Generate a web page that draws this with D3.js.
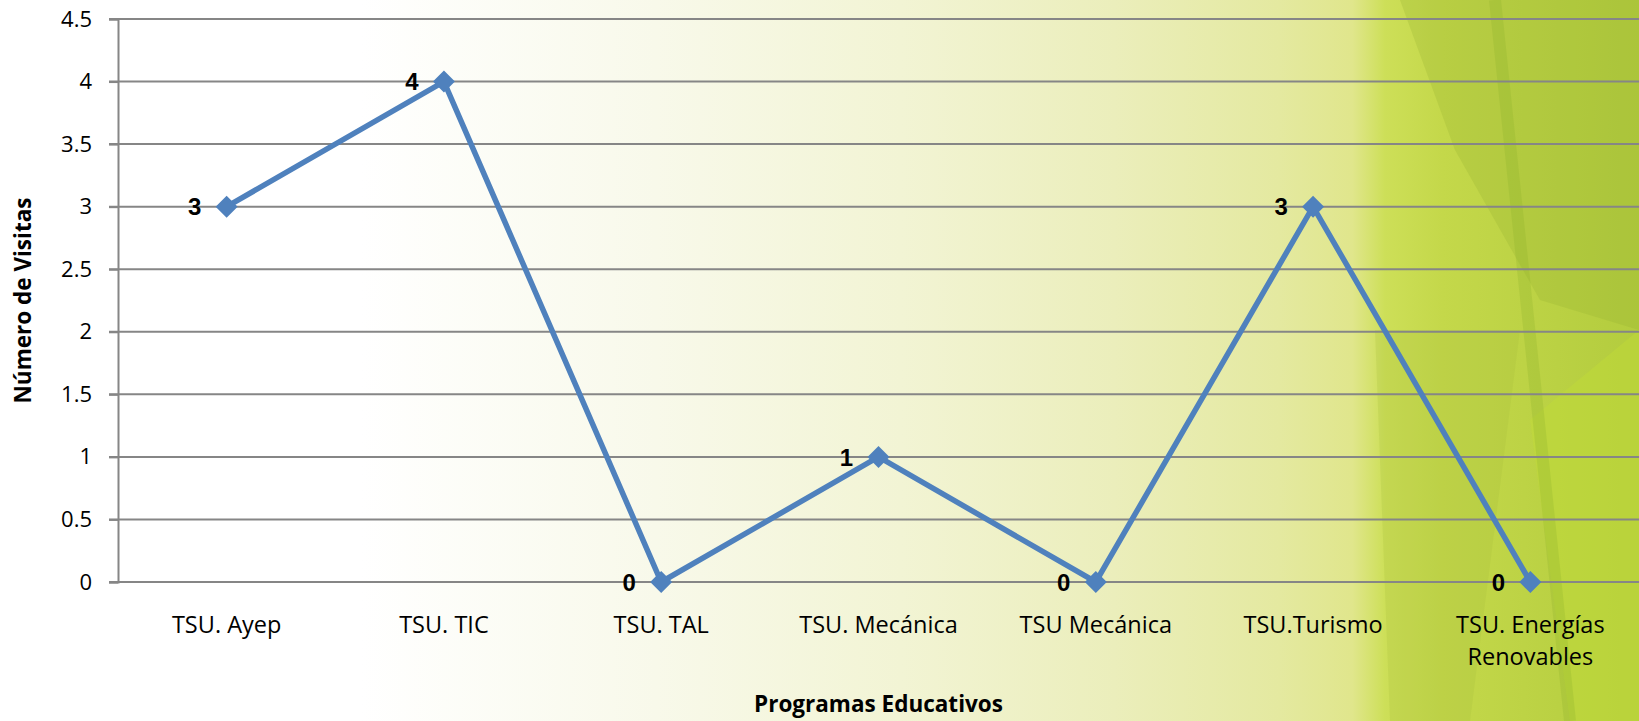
<!DOCTYPE html>
<html>
<head>
<meta charset="utf-8">
<script src="https://cdn.jsdelivr.net/npm/d3@7"></script>
<style>
  html, body { margin: 0; padding: 0; background: #fff; }
  svg { display: block; }
  .tick text { font-family: "Open Sans", sans-serif; fill: #000; }
</style>
</head>
<body>
<div id="chart"></div>
<script>
"use strict";

// chart data
var programas = ["TSU. Ayep", "TSU. TIC", "TSU. TAL", "TSU. Mecánica", "TSU Mecánica", "TSU.Turismo", "TSU. Energías Renovables"];
var visitas = [3, 4, 0, 1, 0, 3, 0];
var yTicks = [0, 0.5, 1, 1.5, 2, 2.5, 3, 3.5, 4, 4.5];

var width = 1639, height = 721;
var margin = {top: 19, right: 0, bottom: 139, left: 118};
var innerW = width - margin.left - margin.right;
var innerH = height - margin.top - margin.bottom;

var svg = d3.select("#chart").append("svg")
  .attr("width", width)
  .attr("height", height);

// background: white fading into yellow, then green on the right
var defs = svg.append("defs");
var grad = defs.append("linearGradient").attr("id", "bg").attr("x1", "0").attr("x2", "1").attr("y1", "0").attr("y2", "0");
[["0%", "#ffffff"], ["22%", "#ffffff"], ["40%", "#f8f9ea"], ["55%", "#f2f4d4"], ["68%", "#ebeebb"], ["78%", "#e4e9a0"], ["82.5%", "#e0e68c"], ["84.5%", "#cddf58"], ["88%", "#c4d84a"], ["100%", "#b3cc3e"]]
  .forEach(function(s) { grad.append("stop").attr("offset", s[0]).attr("stop-color", s[1]); });
svg.append("rect").attr("width", width).attr("height", height).attr("fill", "url(#bg)");

// faceted shapes on the right side
var facets = [
  {pts: "1400,0 1639,0 1639,330 1540,300 1455,150", fill: "#94ae30", op: 0.25},
  {pts: "1375,330 1520,330 1470,721 1390,721", fill: "#a2bb3a", op: 0.22},
  {pts: "1530,420 1639,330 1639,721 1570,721", fill: "#c2dc38", op: 0.45}
];
svg.append("g").selectAll("polygon").data(facets).enter().append("polygon")
  .attr("points", function(d) { return d.pts; })
  .attr("fill", function(d) { return d.fill; })
  .attr("opacity", function(d) { return d.op; });
svg.append("line")
  .attr("x1", 1495).attr("y1", 0).attr("x2", 1570).attr("y2", 721)
  .attr("stroke", "#86ac28").attr("stroke-width", 12).attr("opacity", 0.22);

var g = svg.append("g").attr("transform", "translate(" + margin.left + "," + margin.top + ")");

var x = d3.scaleBand().domain(programas).range([0, innerW]);
var y = d3.scaleLinear().domain([0, 4.5]).range([innerH, 0]);

// gridlines
g.append("g").selectAll("line").data(yTicks).enter().append("line")
  .attr("x1", -9).attr("x2", innerW)
  .attr("y1", function(d) { return y(d); })
  .attr("y2", function(d) { return y(d); })
  .attr("stroke", "#868686")
  .attr("stroke-width", 2);

// y axis
var yAxis = g.append("g")
  .call(d3.axisLeft(y).tickValues(yTicks).tickSize(9).tickPadding(17).tickFormat(function(d) { return String(d); }));
yAxis.select(".domain").attr("stroke", "#868686").attr("stroke-width", 2);
yAxis.selectAll(".tick line").attr("stroke", "#868686").attr("stroke-width", 2);
yAxis.selectAll(".tick text").style("font-size", "22px");

// x axis
var xAxis = g.append("g")
  .attr("transform", "translate(0," + innerH + ")")
  .call(d3.axisBottom(x).tickSize(0).tickPadding(0));
xAxis.select(".domain").remove();
xAxis.selectAll(".tick text").each(function(d) {
  var t = d3.select(this).text("").attr("y", 51).attr("dy", null).style("font-size", "23.5px");
  var words = d === "TSU. Energías Renovables" ? ["TSU. Energías", "Renovables"] : [d];
  words.forEach(function(w, i) {
    t.append("tspan").attr("x", 0).attr("y", 51 + i * 32).text(w);
  });
});

// line
var line = d3.line()
  .x(function(d, i) { return x(programas[i]) + x.bandwidth() / 2; })
  .y(function(d) { return y(d); });

g.append("path")
  .datum(visitas)
  .attr("d", line)
  .attr("fill", "none")
  .attr("stroke", "#4f81bd")
  .attr("stroke-width", 5.5)
  .attr("stroke-linejoin", "miter");

// diamond markers
g.selectAll(".marker").data(visitas).enter().append("path")
  .attr("class", "marker")
  .attr("d", "M0,-11L11,0L0,11L-11,0Z")
  .attr("fill", "#4f81bd")
  .attr("transform", function(d, i) {
    return "translate(" + (x(programas[i]) + x.bandwidth() / 2) + "," + y(d) + ")";
  });

// data labels
g.selectAll(".label").data(visitas).enter().append("text")
  .attr("class", "label")
  .attr("x", function(d, i) { return x(programas[i]) + x.bandwidth() / 2 - 32; })
  .attr("y", function(d) { return y(d); })
  .attr("dy", "0.36em")
  .attr("text-anchor", "middle")
  .style("font-family", "'Liberation Sans', Arial, sans-serif")
  .style("font-weight", "bold")
  .style("font-size", "24px")
  .text(function(d) { return d; });

// axis titles
svg.append("text")
  .attr("transform", "translate(31," + (margin.top + innerH / 2) + ") rotate(-90)")
  .attr("text-anchor", "middle")
  .style("font-family", "'Open Sans', sans-serif")
  .style("font-weight", "bold")
  .style("font-size", "22.5px")
  .text("Número de Visitas");

svg.append("text")
  .attr("x", margin.left + innerW / 2)
  .attr("y", 712)
  .attr("text-anchor", "middle")
  .style("font-family", "'Open Sans', sans-serif")
  .style("font-weight", "bold")
  .style("font-size", "22.5px")
  .text("Programas Educativos");
</script>
</body>
</html>
